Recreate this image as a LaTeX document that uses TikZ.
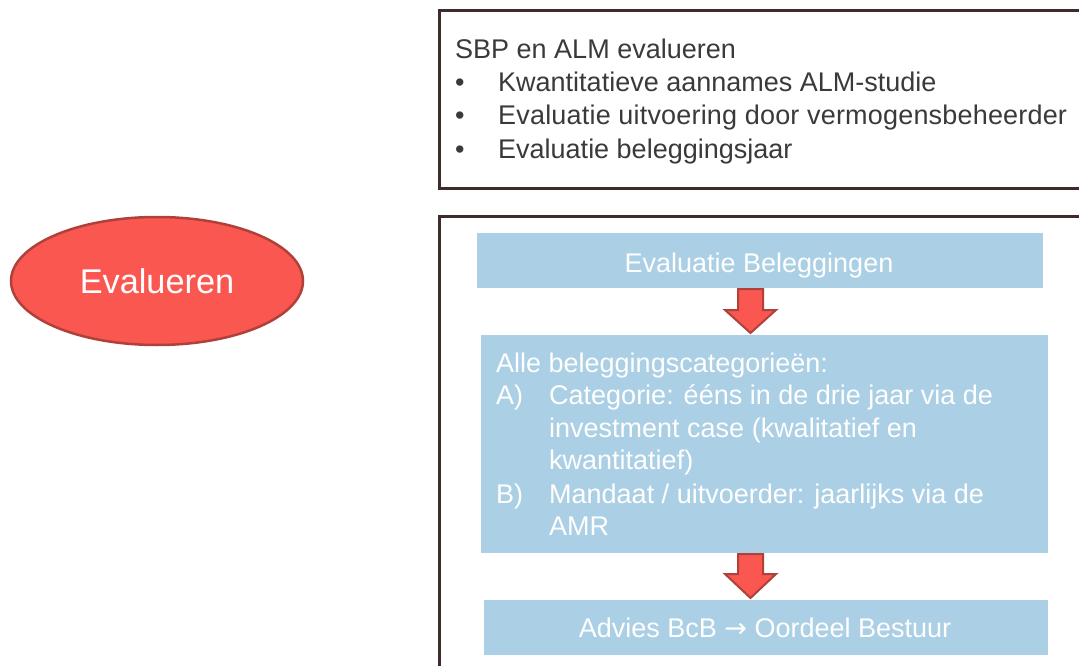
\documentclass[tikz,border=0pt]{standalone}
\usepackage{fontspec}
\setmainfont{Liberation Sans}
\newfontfamily\arrowfont{DejaVu Sans}
\usetikzlibrary{calc,shapes.geometric}
\definecolor{framecol}{HTML}{3E2C2C}
\definecolor{boxblue}{HTML}{ABCFE4}
\definecolor{ellred}{HTML}{FA5750}
\definecolor{ellline}{HTML}{B0403A}
\definecolor{txtgray}{HTML}{3A3A3A}
\tikzset{
  framebox/.style={draw=framecol, line width=3pt},
  bluebox/.style={fill=boxblue, draw=none, inner sep=0pt, anchor=north west},
  bodytxt/.style={font=\fontsize{27}{33}\selectfont, inner sep=0pt},
  darktxt/.style={bodytxt, text=txtgray, anchor=base west},
  whitetxt/.style={bodytxt, text=white},
  blockarrow/.style={fill=ellred, draw=ellline, line width=2pt, line join=miter},
}
\begin{document}
\begin{tikzpicture}[x=1pt,y=-1pt]
\useasboundingbox (0,0) rectangle (1079,666);
\clip (0,0) rectangle (1079,666);
\fill[white] (0,0) rectangle (1079,666);

% frames
\draw[framebox] (439.5,10.5) rectangle (1095,188.5);
\draw[framebox] (439.5,216) rectangle (1095,690);

% ellipse
\node[ellipse, draw=ellline, line width=2.5pt, fill=ellred, minimum width=292pt, minimum height=128pt, inner sep=0pt,
      text=white, font=\fontsize{34.3}{40}\selectfont] (eval) at (157,281) {Evalueren};

% top box text
\node[darktxt] (t0) at (455,59) {SBP en ALM evalueren};
\node[darktxt] (b1) at (455,92) {•};
\node[darktxt] (t1) at (498,92) {Kwantitatieve aannames ALM-studie};
\node[darktxt] (b2) at (455,125) {•};
\node[darktxt] (t2) at (498,125) {\addfontfeature{LetterSpace=0.7}Evaluatie uitvoering door vermogensbeheerder};
\node[darktxt] (b3) at (455,158) {•};
\node[darktxt] (t3) at (498,158) {Evaluatie beleggingsjaar};

% blue boxes
\node[bluebox, minimum width=566pt, minimum height=55pt] (box1) at (477,233) {};
\node[whitetxt, anchor=base] (box1t) at (759,272) {Evaluatie Beleggingen};

\node[bluebox, minimum width=567pt, minimum height=218pt] (box2) at (481,335) {};
\node[whitetxt, anchor=base west] (l0) at (496,372) {Alle beleggingscategorieën:};
\node[whitetxt, anchor=base west] (la) at (496,404) {A)};
\node[whitetxt, anchor=base west] (l1) at (549,404) {Categorie: ééns in de drie jaar via de};
\node[whitetxt, anchor=base west] (l2) at (549,437) {investment case (kwalitatief en};
\node[whitetxt, anchor=base west] (l3) at (549,469) {kwantitatief)};
\node[whitetxt, anchor=base west] (lb) at (496,503) {B)};
\node[whitetxt, anchor=base west] (l4) at (549,503) {Mandaat / uitvoerder: jaarlijks via de};
\node[whitetxt, anchor=base west] (l5) at (549,535) {AMR};

\node[bluebox, minimum width=564pt, minimum height=55pt] (box3) at (484,600) {};
\node[whitetxt, anchor=base] (box3t) at (765,637) {Advies BcB {\arrowfont →} Oordeel Bestuur};

% block arrows
\draw[blockarrow] (738,289) -- (763,289) -- (763,310) -- (776,310) -- (750.5,333) -- (725,310) -- (738,310) -- cycle;
\draw[blockarrow] (738,554) -- (763,554) -- (763,574) -- (776,574) -- (750.5,598) -- (725,574) -- (738,574) -- cycle;
\end{tikzpicture}
\end{document}
